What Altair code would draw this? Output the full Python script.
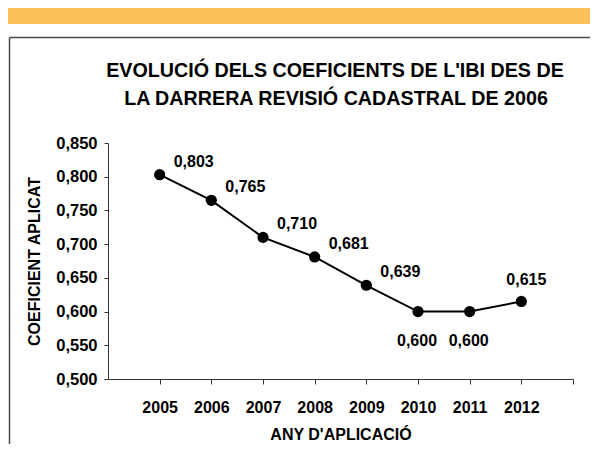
import altair as alt
import pandas as pd

years = [2005, 2006, 2007, 2008, 2009, 2010, 2011, 2012]
coefs = [0.803, 0.765, 0.710, 0.681, 0.639, 0.600, 0.600, 0.615]
y_ticks = [0.500, 0.550, 0.600, 0.650, 0.700, 0.750, 0.800, 0.850]
title_lines = ["EVOLUCIÓ DELS COEFICIENTS DE L'IBI DES DE",
               "LA DARRERA REVISIÓ CADASTRAL DE 2006"]
x_title = "ANY D'APLICACIÓ"
y_title = "COEFICIENT APLICAT"
below_years = [2010, 2011]
above_years = [2012]

FONT = "Liberation Sans"

df = pd.DataFrame({"year": years, "coef": coefs})
df["label"] = [f"{v:.3f}".replace(".", ",") for v in coefs]

one = pd.DataFrame({"k": [0]})

x_enc = alt.X("year:Q",
              scale=alt.Scale(domain=[2004, 2013], nice=False, zero=False),
              axis=alt.Axis(values=years + [2013], format="d",
                            labelExpr="datum.value > 2012 ? '' : datum.label",
                            title=x_title, grid=False,
                            labelFont=FONT, labelFontSize=16, labelFontWeight="bold",
                            labelColor="black", labelPadding=15,
                            tickSize=5, tickColor="#333", domainColor="#333",
                            titleFont=FONT, titleFontSize=16, titleFontWeight="bold",
                            titleColor="black", titlePadding=11))
y_enc = alt.Y("coef:Q",
              scale=alt.Scale(domain=[0.5, 0.85], nice=False, zero=False),
              axis=alt.Axis(values=y_ticks,
                            labelExpr="replace(format(datum.value, '.3f'), '.', ',')",
                            title=y_title, grid=False,
                            labelFont=FONT, labelFontSize=16.5, labelFontWeight="bold",
                            labelColor="black", labelPadding=7,
                            tickSize=4, tickColor="#333", domainColor="#333",
                            titleFont=FONT, titleFontSize=16, titleFontWeight="bold",
                            titleColor="black", titlePadding=13))

base = alt.Chart(df).encode(x=x_enc, y=y_enc)

line = base.mark_line(color="black", strokeWidth=2)
points = base.mark_point(filled=True, color="black", opacity=1, size=125)

lab_right = base.transform_filter(
    ~alt.FieldOneOfPredicate(field="year", oneOf=below_years + above_years)
).mark_text(font=FONT, fontSize=16, fontWeight="bold", color="black",
            align="left", baseline="alphabetic", dx=14, dy=-8).encode(text="label:N")
lab_below = base.transform_filter(
    alt.FieldOneOfPredicate(field="year", oneOf=below_years)
).mark_text(font=FONT, fontSize=16, fontWeight="bold", color="black",
            align="center", baseline="alphabetic", dx=-1, dy=34).encode(text="label:N")
lab_above = base.transform_filter(
    alt.FieldOneOfPredicate(field="year", oneOf=above_years)
).mark_text(font=FONT, fontSize=16, fontWeight="bold", color="black",
            align="center", baseline="alphabetic", dx=5, dy=-16).encode(text="label:N")

band = alt.Chart(one).mark_rect(color="#FDBF5A").encode(
    x=alt.value(-100), x2=alt.value(482), y=alt.value(-135), y2=alt.value(-119))
border_top = alt.Chart(one).mark_rule(color="#4a4a4a", strokeWidth=1.5).encode(
    x=alt.value(-98.5), x2=alt.value(482), y=alt.value(-105.5))
border_left = alt.Chart(one).mark_rule(color="#4a4a4a", strokeWidth=1.5).encode(
    x=alt.value(-98.5), y=alt.value(-105.5), y2=alt.value(301))

t1 = alt.Chart(one).mark_text(font=FONT, fontSize=19.7, fontWeight="bold", color="black",
                              align="center", baseline="alphabetic").encode(
    x=alt.value(227), y=alt.value(-66), text=alt.value(title_lines[0]))
t2 = alt.Chart(one).mark_text(font=FONT, fontSize=19.7, fontWeight="bold", color="black",
                              align="center", baseline="alphabetic").encode(
    x=alt.value(228), y=alt.value(-38), text=alt.value(title_lines[1]))

chart = alt.layer(band, border_top, border_left, t1, t2,
                  line, points, lab_right, lab_below, lab_above).properties(
    width=465, height=236,
    padding={"left": 100, "top": 135, "right": 17, "bottom": 65},
    autosize=alt.AutoSizeParams(type="none"),
    background="white",
).configure_view(stroke=None)

chart.save("out.html", embed_options={"renderer": "svg", "actions": False})
